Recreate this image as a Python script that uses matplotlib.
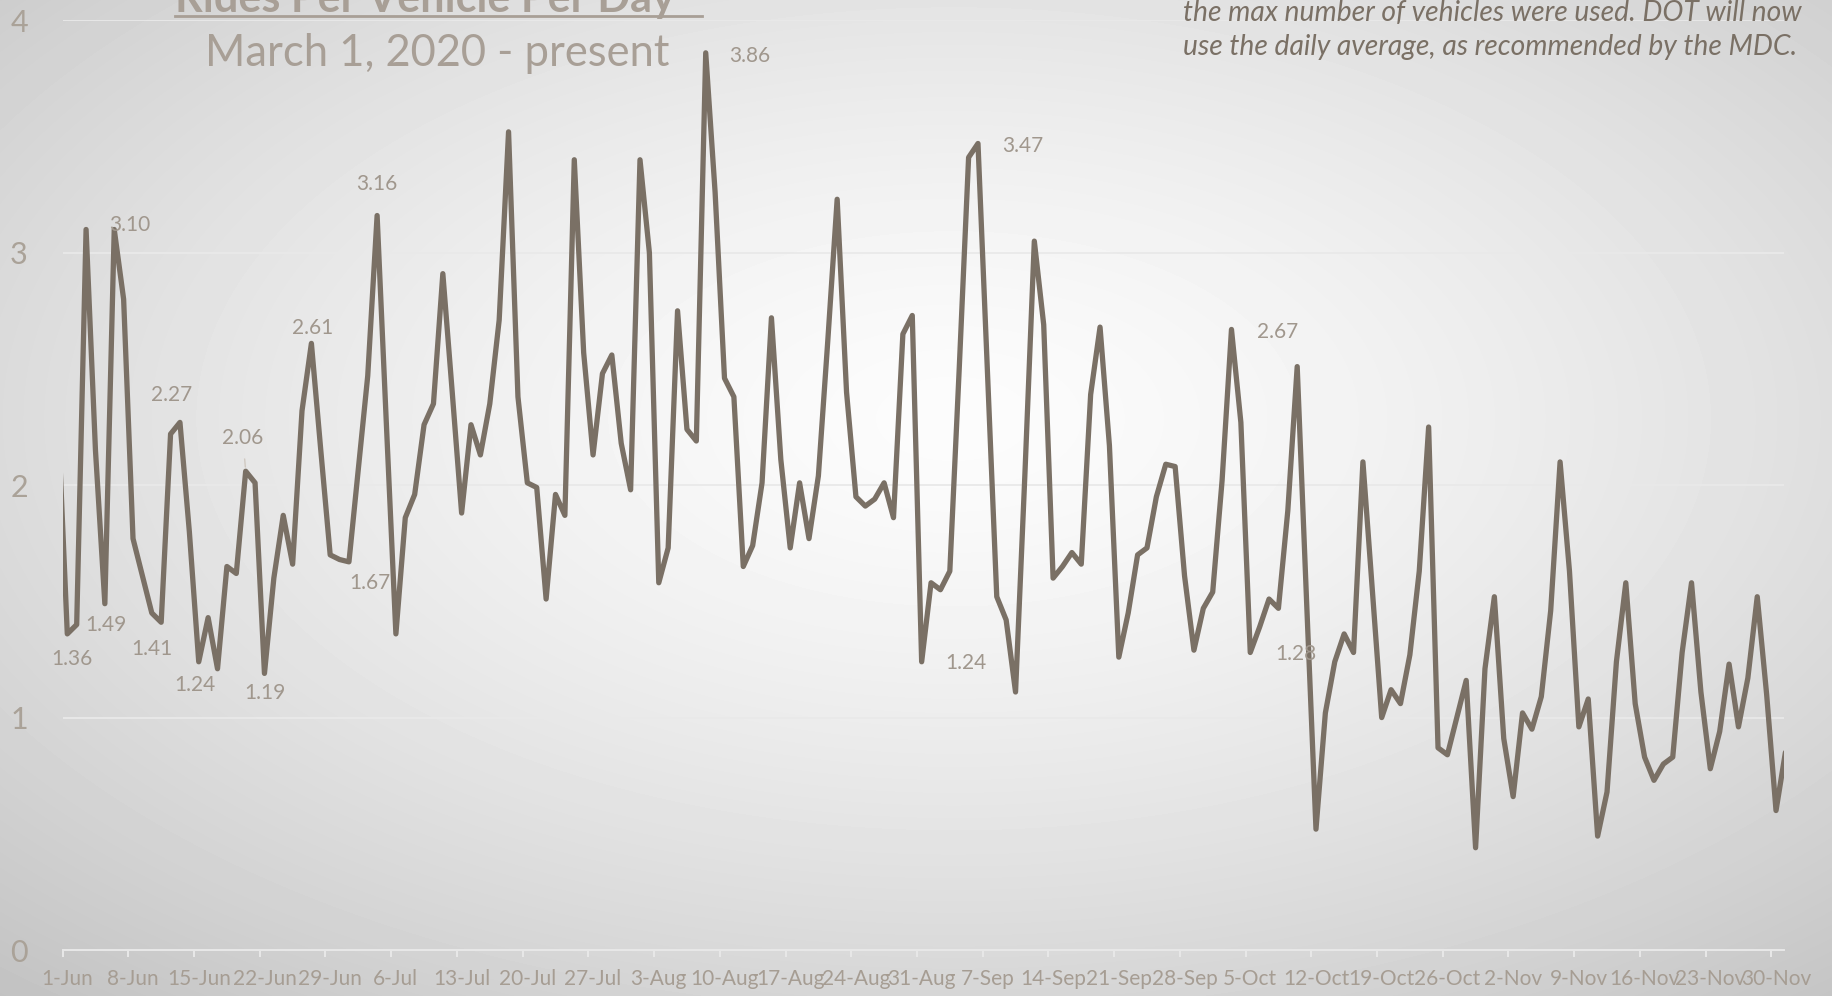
import matplotlib
matplotlib.use('Agg')
import matplotlib.pyplot as plt
import matplotlib.dates as mdates
from matplotlib.lines import Line2D
import numpy as np
import pandas as pd

plt.rcParams['font.family'] = ['Lato', 'Liberation Sans', 'DejaVu Sans']

# daily rides per vehicle, 31-May .. 1-Dec 2020
may = [2.30]
jun = [1.36, 1.40, 3.10, 2.15, 1.49, 3.10, 2.80, 1.77, 1.61, 1.45,
       1.41, 2.22, 2.27, 1.80, 1.24, 1.43, 1.21, 1.65, 1.62, 2.06,
       2.01, 1.19, 1.60, 1.87, 1.66, 2.32, 2.61, 2.15, 1.70, 1.68]
jul = [1.67, 2.07, 2.47, 3.16, 2.25, 1.36, 1.86, 1.96, 2.26, 2.35,
       2.91, 2.40, 1.88, 2.26, 2.13, 2.35, 2.71, 3.52, 2.38, 2.01,
       1.99, 1.51, 1.96, 1.87, 3.40, 2.57, 2.13, 2.48, 2.56, 2.18, 1.98]
aug = [3.40, 3.00, 1.58, 1.73, 2.75, 2.24, 2.19, 3.86, 3.26, 2.46,
       2.38, 1.65, 1.74, 2.01, 2.72, 2.11, 1.73, 2.01, 1.77, 2.04,
       2.62, 3.23, 2.40, 1.95, 1.91, 1.94, 2.01, 1.86, 2.65, 2.73, 1.24]
sep = [1.58, 1.55, 1.63, 2.50, 3.41, 3.47, 2.50, 1.52, 1.42, 1.11,
       2.05, 3.05, 2.69, 1.60, 1.65, 1.71, 1.66, 2.39, 2.68, 2.17,
       1.26, 1.45, 1.70, 1.73, 1.95, 2.09, 2.08, 1.61, 1.29, 1.47]
oct_ = [1.54, 2.02, 2.67, 2.27, 1.28, 1.39, 1.51, 1.47, 1.89, 2.51,
        1.50, 0.52, 1.02, 1.24, 1.36, 1.28, 2.10, 1.55, 1.00, 1.12,
        1.06, 1.27, 1.63, 2.25, 0.87, 0.84, 1.00, 1.16, 0.44, 1.21, 1.52]
nov = [0.91, 0.66, 1.02, 0.95, 1.09, 1.46, 2.10, 1.63, 0.96, 1.08,
       0.49, 0.68, 1.24, 1.58, 1.06, 0.83, 0.73, 0.80, 0.83, 1.28,
       1.58, 1.11, 0.78, 0.94, 1.23, 0.96, 1.17, 1.52, 1.10, 0.60]
dec = [0.85]

values = may + jun + jul + aug + sep + oct_ + nov + dec
dates = pd.date_range('2020-05-31', periods=len(values), freq='D')
series = pd.Series(values, index=dates)

# labelled points: date, offset of label in points
label_dates = ['2020-06-01', '2020-06-05', '2020-06-06', '2020-06-11', '2020-06-13',
               '2020-06-15', '2020-06-20', '2020-06-22', '2020-06-27', '2020-07-04',
               '2020-07-01', '2020-08-08', '2020-08-31', '2020-09-06', '2020-10-03',
               '2020-10-05']
label_offsets = [(3, -18), (1, -15), (11, 3), (-7, -19), (-6, 20),
                 (-3, -17), (-2, 24), (0, -14), (1, 11), (0, 23),
                 (15, -15), (32, -2), (32, -1), (32, -2), (33, -2),
                 (33, -1)]

tick_dates = pd.date_range('2020-06-01', '2020-11-30', freq='7D')
tick_labels = [f'{d.day}-{d:%b}' for d in tick_dates]

line_color = '#7a7065'
text_color = '#a89f96'

W, H = 1833, 996
fig = plt.figure(figsize=(W / 100, H / 100), dpi=100)

# radial background
bg = fig.add_axes([0, 0, 1, 1], zorder=-5)
yy, xx = np.mgrid[0:H, 0:W]
r = np.hypot((xx - 0.52 * W) / W, (yy - 0.42 * H) / H) / 0.68
shade = np.clip(252 - 48 * r ** 1.4, 0, 255) / 255
bg.imshow(shade, cmap='gray', vmin=0, vmax=1, aspect='auto', interpolation='bilinear')
bg.axis('off')

ax = fig.add_axes([62.6 / W, 1 - 950 / H, (1784 - 62.6) / W, (950 - 20.3) / H])
ax.set_facecolor('none')

ax.plot(series.index, series.values, color=line_color, lw=3.8,
        solid_joinstyle='round', solid_capstyle='round', zorder=3)

start = mdates.date2num(pd.Timestamp('2020-06-01'))
ax.set_xlim(start - 0.5, start + 182.85)
ax.set_ylim(0, 4)

# ticks between dates, labels on dates
ax.set_xticks(mdates.date2num(tick_dates) - 0.5)
ax.set_xticklabels([])
ax.set_xticks(mdates.date2num(tick_dates), minor=True)
ax.set_xticklabels(tick_labels, minor=True)
ax.tick_params(axis='x', which='major', length=5, width=1.4, color='#e8e8e8', direction='out')
ax.tick_params(axis='x', which='minor', length=0, pad=14, labelsize=15, labelcolor='#a69d93')

ax.set_yticks([0, 1, 2, 3, 4])
ax.set_yticklabels(['0', '1', '2', '3', '4'])
ax.tick_params(axis='y', length=0, pad=25, labelsize=22, labelcolor='#aaa298')

ax.grid(axis='y', color='#e9e9e9', lw=1.3, zorder=1)
for s in ['top', 'right', 'left']:
    ax.spines[s].set_visible(False)
ax.spines['bottom'].set_color('#e8e8e8')
ax.spines['bottom'].set_linewidth(1.4)

for d, (dx, dy) in zip(label_dates, label_offsets):
    v = series[pd.Timestamp(d)]
    kw = {}
    if d == '2020-06-20':
        kw['arrowprops'] = dict(arrowstyle='-', color='#d0c9c1', lw=1, shrinkA=6, shrinkB=3)
    ax.annotate(f'{v:.2f}', (pd.Timestamp(d), v), xytext=(dx, dy),
                textcoords='offset points', ha='center', va='center',
                fontsize=15, color='#a0978d', zorder=4, **kw)

# titles and note
renderer = fig.canvas.get_renderer()


def fit(t, width_px):
    bb = t.get_window_extent(renderer)
    t.set_fontsize(t.get_fontsize() * width_px / bb.width)


title = fig.text(175 / W, 1 - 11.7 / H, 'Rides Per Vehicle Per Day', ha='left',
                 va='baseline', fontsize=30, weight='bold', color=text_color)
fit(title, 498)
fig.add_artist(Line2D([175 / W, 702 / W], [1 - 16 / H] * 2, color=text_color, lw=2))

sub = fig.text(437 / W, 1 - 66 / H, 'March 1, 2020 - present', ha='center',
               va='baseline', fontsize=30, color=text_color)
fit(sub, 464)

note1 = fig.text(1183 / W, 1 - 21 / H, 'the max number of vehicles were used. DOT will now',
                 ha='left', va='baseline', fontsize=18, style='italic', color=line_color)
fit(note1, 620)
note2 = fig.text(1183 / W, 1 - 55 / H, 'use the daily average, as recommended by the MDC.',
                 ha='left', va='baseline', fontsize=note1.get_fontsize(), style='italic',
                 color=line_color)

fig.savefig('out.png', dpi=100)
